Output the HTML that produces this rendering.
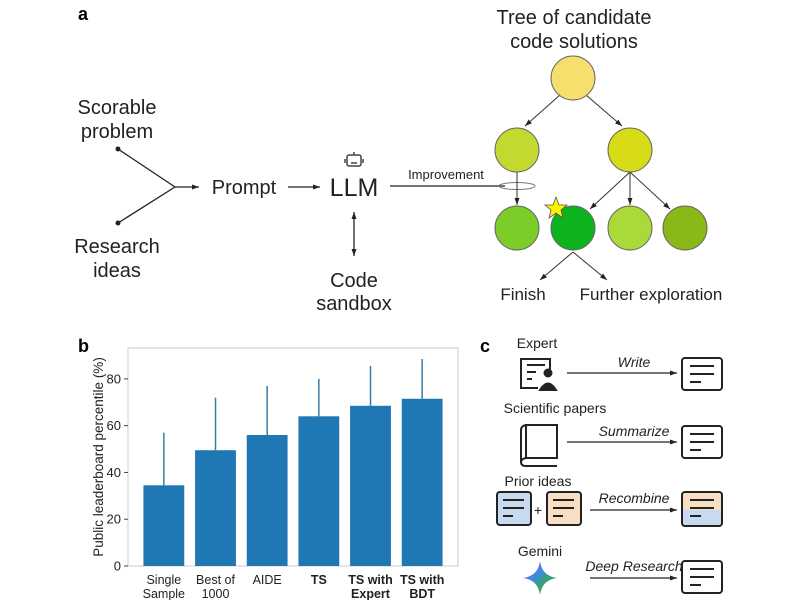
<!DOCTYPE html>
<html><head><meta charset="utf-8"><style>
body{margin:0;background:#fff;}
svg{display:block;font-family:"Liberation Sans",sans-serif;}
</style></head><body>
<svg width="800" height="600" viewBox="0 0 800 600">
<defs>
<marker id="ah" markerWidth="8" markerHeight="8" refX="7" refY="4" orient="auto" markerUnits="userSpaceOnUse"><path d="M0,1.5 L7,4 L0,6.5 Z" fill="#222"/></marker>
<marker id="ahs" markerWidth="8" markerHeight="8" refX="1" refY="4" orient="auto" markerUnits="userSpaceOnUse"><path d="M8,1.5 L1,4 L8,6.5 Z" fill="#222"/></marker>
<linearGradient id="gem" x1="0" y1="0" x2="1" y2="1"><stop offset="0" stop-color="#e94235"/><stop offset="0.35" stop-color="#4285f4"/><stop offset="0.7" stop-color="#34a853"/><stop offset="1" stop-color="#fbbc04"/></linearGradient>
</defs>
<!-- Panel a -->
<text x="78" y="20" font-size="18" font-weight="bold">a</text>
<g font-size="20" fill="#222" text-anchor="middle">
<text x="117" y="114"><tspan x="117">Scorable</tspan><tspan x="117" dy="24">problem</tspan></text>
<text x="117" y="253"><tspan x="117">Research</tspan><tspan x="117" dy="24">ideas</tspan></text>
<text x="244" y="194">Prompt</text>
<text x="354" y="196" font-size="25">LLM</text>
<text x="354" y="287"><tspan x="354">Code</tspan><tspan x="354" dy="23">sandbox</tspan></text>
<text x="574" y="24"><tspan x="574">Tree of candidate</tspan><tspan x="574" dy="24">code solutions</tspan></text>
<text x="523" y="300" font-size="17">Finish</text>
<text x="651" y="300" font-size="17">Further exploration</text>
</g>
<g stroke="#222" stroke-width="1.3" fill="none">
<line x1="118" y1="149" x2="175" y2="187"/><line x1="118" y1="223" x2="175" y2="187"/>
<line x1="175" y1="187" x2="199" y2="187" marker-end="url(#ah)"/>
<line x1="288" y1="187" x2="320" y2="187" marker-end="url(#ah)"/>
<line x1="354" y1="212" x2="354" y2="256" marker-end="url(#ah)" marker-start="url(#ahs)"/>
<line x1="390" y1="186" x2="505" y2="186"/>
<ellipse cx="517" cy="186" rx="18" ry="3.5" stroke="#777" stroke-width="1"/>
</g>
<circle cx="118" cy="149" r="2.5" fill="#222"/><circle cx="118" cy="223" r="2.5" fill="#222"/>
<text x="446" y="179" font-size="13" text-anchor="middle" fill="#222">Improvement</text>
<g fill="none" stroke="#444" stroke-width="1.5">
<rect x="347" y="155" width="14" height="11" rx="2"/><line x1="354" y1="152" x2="354" y2="155"/><line x1="345" y1="159" x2="345" y2="163"/><line x1="363" y1="159" x2="363" y2="163"/><line x1="351" y1="163" x2="357" y2="163"/>
</g>
<g stroke="#333" stroke-width="1" fill="none">
<line x1="560" y1="95" x2="525" y2="126" marker-end="url(#ah)"/>
<line x1="586" y1="95" x2="622" y2="126" marker-end="url(#ah)"/>
<line x1="517" y1="172" x2="517" y2="205" marker-end="url(#ah)"/>
<line x1="630" y1="172" x2="590" y2="209" marker-end="url(#ah)"/>
<line x1="630" y1="172" x2="630" y2="205" marker-end="url(#ah)"/>
<line x1="630" y1="172" x2="670" y2="209" marker-end="url(#ah)"/>
<line x1="573" y1="252" x2="540" y2="280" marker-end="url(#ah)"/>
<line x1="573" y1="252" x2="607" y2="280" marker-end="url(#ah)"/>
</g>
<g stroke="#666" stroke-width="1">
<circle cx="573" cy="78" r="22" fill="#f6df6c"/>
<circle cx="517" cy="150" r="22" fill="#c3d930"/>
<circle cx="630" cy="150" r="22" fill="#d7dc16"/>
<circle cx="517" cy="228" r="22" fill="#7ccd2a"/>
<circle cx="573" cy="228" r="22" fill="#0cb31c"/>
<circle cx="630" cy="228" r="22" fill="#a9da3a"/>
<circle cx="685" cy="228" r="22" fill="#8ab816"/>
</g>
<polygon points="556,197 559,205 567,205 561,210 563,218 556,213 549,218 551,210 545,205 553,205" fill="#fff200" stroke="#555" stroke-width="0.8"/>

<!-- Panel b -->
<text x="78" y="352" font-size="18" font-weight="bold">b</text>
<g id="chart"></g>

<!-- Panel c -->
<text x="480" y="352" font-size="18" font-weight="bold">c</text>
<g font-size="14" fill="#222">
<text x="537" y="348" text-anchor="middle">Expert</text>
<text x="555" y="413" text-anchor="middle">Scientific papers</text>
<text x="538" y="486" text-anchor="middle">Prior ideas</text>
<text x="540" y="556" text-anchor="middle">Gemini</text>
<g font-style="italic" text-anchor="middle">
<text x="634" y="367">Write</text>
<text x="634" y="436">Summarize</text>
<text x="634" y="503">Recombine</text>
<text x="634" y="571">Deep Research</text>
</g>
<text x="538" y="515" text-anchor="middle">+</text>
</g>
<g stroke="#222" stroke-width="1.2" fill="none">
<line x1="567" y1="373" x2="677" y2="373" marker-end="url(#ah)"/>
<line x1="567" y1="442" x2="677" y2="442" marker-end="url(#ah)"/>
<line x1="590" y1="510" x2="677" y2="510" marker-end="url(#ah)"/>
<line x1="590" y1="578" x2="677" y2="578" marker-end="url(#ah)"/>
</g>
<g stroke="#222" stroke-width="2" fill="none">
<g>
<path d="M550,372 V359 H521 V388 H538"/>
<line x1="527" y1="365" x2="545" y2="365"/><line x1="527" y1="372" x2="536" y2="372"/><line x1="527" y1="379" x2="532" y2="379"/>
<circle cx="548" cy="373" r="3.5" fill="#222"/><path d="M540,390 Q548,377 556,390 Z" fill="#222"/>
</g>
<g>
<path d="M526,425 H557 V458 H526 Z"/><path d="M526,425 Q521,426 521,430 V462 Q521,466 526,466 H557"/><path d="M526,458 Q521,459 521,462"/>
</g>
<g><rect x="682" y="358" width="40" height="32" rx="3"/><line x1="690" y1="366" x2="714" y2="366"/><line x1="690" y1="374" x2="714" y2="374"/><line x1="690" y1="382" x2="701" y2="382"/></g>
<g><rect x="682" y="426" width="40" height="32" rx="3"/><line x1="690" y1="434" x2="714" y2="434"/><line x1="690" y1="442" x2="714" y2="442"/><line x1="690" y1="450" x2="701" y2="450"/></g>
<g><rect x="497" y="492" width="34" height="33" rx="3" fill="#c8daf0"/><line x1="503" y1="500" x2="524" y2="500"/><line x1="503" y1="508" x2="524" y2="508"/><line x1="503" y1="516" x2="513" y2="516"/></g>
<g><rect x="547" y="492" width="34" height="33" rx="3" fill="#f8dfc4"/><line x1="553" y1="500" x2="574" y2="500"/><line x1="553" y1="508" x2="574" y2="508"/><line x1="553" y1="516" x2="563" y2="516"/></g>
<g><path d="M683,510 V495 Q683,493 685,493 H719 Q721,493 721,495 V510 Z" fill="#f8dfc4" stroke="none"/><path d="M683,510 V523 Q683,525 685,525 H719 Q721,525 721,523 V510 Z" fill="#c8daf0" stroke="none"/><rect x="682" y="492" width="40" height="34" rx="3"/><line x1="690" y1="500" x2="714" y2="500"/><line x1="690" y1="508" x2="714" y2="508"/><line x1="690" y1="516" x2="701" y2="516"/></g>
<g><rect x="682" y="561" width="40" height="32" rx="3"/><line x1="690" y1="569" x2="714" y2="569"/><line x1="690" y1="577" x2="714" y2="577"/><line x1="690" y1="585" x2="701" y2="585"/></g>
</g>
<path d="M540,561 Q542,576 557,578 Q542,580 540,595 Q538,580 523,578 Q538,576 540,561 Z" fill="url(#gem)"/>
</svg>
<script>
const categories=[["Single","Sample"],["Best of","1000"],["AIDE",""],["TS",""],["TS with","Expert"],["TS with","BDT"]];
const boldFlags=[false,false,false,true,true,true];
const values=[34.5,49.5,56,64,68.5,71.5];
const errTops=[57,72,77,80,85.5,88.5];
const yTicks=[0,20,40,60,80];
(function(){
const NS="http://www.w3.org/2000/svg";
const g=document.getElementById('chart');
const L=128,R=458,T=348,B=566,ymax=93.2;
const y=v=>B-(v/ymax)*(B-T);
const pad=10;
const step=(R-L-2*pad)/categories.length;
const x=i=>L+pad+step*(i+0.5);
const bw=step*0.79;
function mk(t,a){const e=document.createElementNS(NS,t);for(const k in a)e.setAttribute(k,a[k]);g.appendChild(e);return e;}
const fr=mk('rect',{x:L,y:T,width:R-L,height:B-T,fill:'none',stroke:'#ccc','stroke-width':1});


yTicks.forEach(v=>{
 const tl=mk('line',{x1:L-4,x2:L,y1:y(v),y2:y(v),stroke:'#444'});
 
 
 const t=mk('text',{x:L-7,y:y(v)+4.5,'font-size':13,'text-anchor':'end',fill:'#222'});
 t.textContent=v;
 
 
});
values.forEach((v,i)=>{
 const b=mk('rect',{x:x(i)-bw/2,y:y(v),width:bw,height:B-y(v),fill:'#1f77b4'});
 
 
 const e=mk('line',{x1:x(i),x2:x(i),y1:y(v),y2:y(errTops[i]),stroke:'#3a7ca8','stroke-width':1.5});
 
 
 const t=mk('text',{x:x(i),y:B+18,'font-size':12.5,'text-anchor':'middle',fill:'#222','font-weight':boldFlags[i]?'bold':'normal'});
 
 
 categories[i].forEach((ln,k)=>{const s=document.createElementNS(NS,'tspan');s.setAttribute('x',x(i));s.setAttribute('dy',k?14:0);s.textContent=ln;t.appendChild(s);});
});
const yt=mk('text',{x:0,y:0,'font-size':13.5,'text-anchor':'middle',fill:'#222',transform:`translate(103,${(T+B)/2}) rotate(-90)`});
yt.textContent='Public leaderboard percentile (%)';


})();
</script>
</body></html>
